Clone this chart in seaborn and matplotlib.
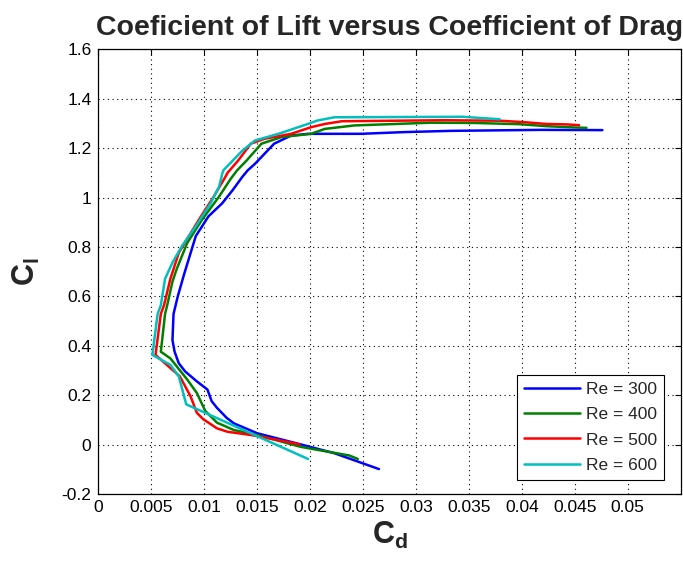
import matplotlib
matplotlib.use('Agg')
import matplotlib.pyplot as plt
import seaborn as sns
import pandas as pd
import numpy as np

# ---------------- data ----------------
re_labels = ['Re = 300', 'Re = 400', 'Re = 500', 'Re = 600']

cd_re300 = [0.0265, 0.0223, 0.0191, 0.0150, 0.0128, 0.0121, 0.0112, 0.0107, 0.0103, 0.0093,
            0.0082, 0.0076, 0.0072, 0.0070, 0.0071, 0.0075, 0.0081, 0.0092, 0.0104, 0.0117,
            0.0127, 0.0136, 0.0141, 0.0148, 0.0166, 0.0182, 0.0198, 0.0248, 0.0289, 0.0333,
            0.0418, 0.0476]
cl_re300 = [-0.099, -0.035, 0.001, 0.046, 0.086, 0.109, 0.149, 0.176, 0.223, 0.256,
            0.296, 0.329, 0.376, 0.423, 0.529, 0.600, 0.690, 0.844, 0.924, 0.977,
            1.031, 1.084, 1.110, 1.137, 1.218, 1.251, 1.258, 1.258, 1.265, 1.270,
            1.274, 1.273]

cd_re400 = [0.0245, 0.0237, 0.0191, 0.0150, 0.0128, 0.0112, 0.0101, 0.0093, 0.0084, 0.0068,
            0.0059, 0.0063, 0.0065, 0.0070, 0.0074, 0.0084, 0.0098, 0.0114, 0.0125, 0.0131,
            0.0140, 0.0154, 0.0173, 0.0201, 0.0214, 0.0242, 0.0314, 0.0355, 0.0398, 0.0423,
            0.0448, 0.0461]
cl_re400 = [-0.058, -0.044, -0.009, 0.039, 0.059, 0.089, 0.136, 0.209, 0.263, 0.349,
            0.376, 0.529, 0.564, 0.660, 0.711, 0.817, 0.911, 1.004, 1.076, 1.110,
            1.150, 1.218, 1.245, 1.258, 1.278, 1.292, 1.303, 1.302, 1.297, 1.289,
            1.284, 1.282]

cd_re500 = [0.0190, 0.0169, 0.0144, 0.0122, 0.0112, 0.0099, 0.0093, 0.0087, 0.0077, 0.0054,
            0.0059, 0.0062, 0.0068, 0.0076, 0.0095, 0.0109, 0.0120, 0.0122, 0.0132, 0.0144,
            0.0157, 0.0182, 0.0201, 0.0214, 0.0230, 0.0327, 0.0379, 0.0403, 0.0423, 0.0443,
            0.0454]
cl_re500 = [0.001, 0.019, 0.039, 0.052, 0.066, 0.103, 0.129, 0.196, 0.276, 0.363,
            0.529, 0.564, 0.671, 0.777, 0.911, 1.004, 1.084, 1.100, 1.150, 1.218,
            1.238, 1.258, 1.285, 1.298, 1.309, 1.313, 1.311, 1.305, 1.298, 1.296,
            1.293]

cd_re600 = [0.0198, 0.0083, 0.0076, 0.0068, 0.0051, 0.0056, 0.0059, 0.0063, 0.0070, 0.0079,
            0.0092, 0.0106, 0.0114, 0.0117, 0.0118, 0.0136, 0.0148, 0.0170, 0.0198, 0.0207,
            0.0223, 0.0344, 0.0379]
cl_re600 = [-0.058, 0.163, 0.276, 0.323, 0.363, 0.529, 0.564, 0.671, 0.737, 0.804,
            0.884, 0.977, 1.044, 1.096, 1.110, 1.190, 1.231, 1.258, 1.298, 1.312,
            1.325, 1.327, 1.317]

x_ticks = [0, 0.005, 0.01, 0.015, 0.02, 0.025, 0.03, 0.035, 0.04, 0.045, 0.05]
x_tick_labels = ['0', '0.005', '0.01', '0.015', '0.02', '0.025', '0.03', '0.035',
                 '0.04', '0.045', '0.05']
y_ticks = [-0.2, 0, 0.2, 0.4, 0.6, 0.8, 1.0, 1.2, 1.4, 1.6]
y_tick_labels = ['-0.2', '0', '0.2', '0.4', '0.6', '0.8', '1', '1.2', '1.4', '1.6']

series_cd = [cd_re300, cd_re400, cd_re500, cd_re600]
series_cl = [cl_re300, cl_re400, cl_re500, cl_re600]
frames = []
for lab, cd, cl in zip(re_labels, series_cd, series_cl):
    frames.append(pd.DataFrame({'Cd': cd, 'Cl': cl, 'Re': lab}))
df = pd.concat(frames, ignore_index=True)

# ---------------- style ----------------
sns.set_style('white')
plt.rcParams['font.family'] = ['Liberation Sans', 'DejaVu Sans']
plt.rcParams['mathtext.fontset'] = 'custom'
plt.rcParams['mathtext.rm'] = 'Liberation Sans'
plt.rcParams['mathtext.bf'] = 'Liberation Sans:bold'
plt.rcParams['mathtext.it'] = 'Liberation Sans:italic'

colors = ['#0000ff', '#008000', '#ff0000', '#00bfbf']

fig = plt.figure(figsize=(6.83, 5.67), dpi=100)
ax = fig.add_axes([0.144, 0.1287, 0.8527, 0.7843])

sns.lineplot(data=df, x='Cd', y='Cl', hue='Re', hue_order=re_labels, palette=colors,
             sort=False, estimator=None, linewidth=1.8, ax=ax)

ax.set_xlim(0, 0.055)
ax.set_ylim(-0.2, 1.6)
ax.set_xticks(x_ticks)
ax.set_xticklabels(x_tick_labels)
ax.set_yticks(y_ticks)
ax.set_yticklabels(y_tick_labels)

ax.tick_params(axis='both', direction='in', top=True, right=True, length=4.3,
               width=0.8, color='k', labelsize=12.5, labelcolor='k')
ax.tick_params(axis='x', pad=4)
ax.tick_params(axis='y', pad=5)

ax.grid(True, color='k', linestyle=(0, (1, 3.2)), linewidth=0.8)
for s in ax.spines.values():
    s.set_visible(True)
    s.set_color('k')
    s.set_linewidth(0.9)

ax.set_title('Coeficient of Lift versus Coefficient of Drag', fontsize=20.5,
             fontweight='bold', pad=10)
ax.set_xlabel(r'$\mathbf{C_d}$', fontsize=22, labelpad=4)
ax.set_ylabel(r'$\mathbf{C_l}$', fontsize=22, labelpad=14)

leg = ax.legend(loc='lower right', bbox_to_anchor=(0.9713, 0.0315), borderaxespad=0,
                fontsize=12.5, frameon=True, fancybox=False, edgecolor='k',
                framealpha=1, handlelength=3.2, handletextpad=0.35,
                labelspacing=0.58, borderpad=0.42, title=None)
leg.get_frame().set_linewidth(0.8)
for h in leg.get_lines():
    h.set_linewidth(1.8)

fig.savefig('out.png', dpi=100)
